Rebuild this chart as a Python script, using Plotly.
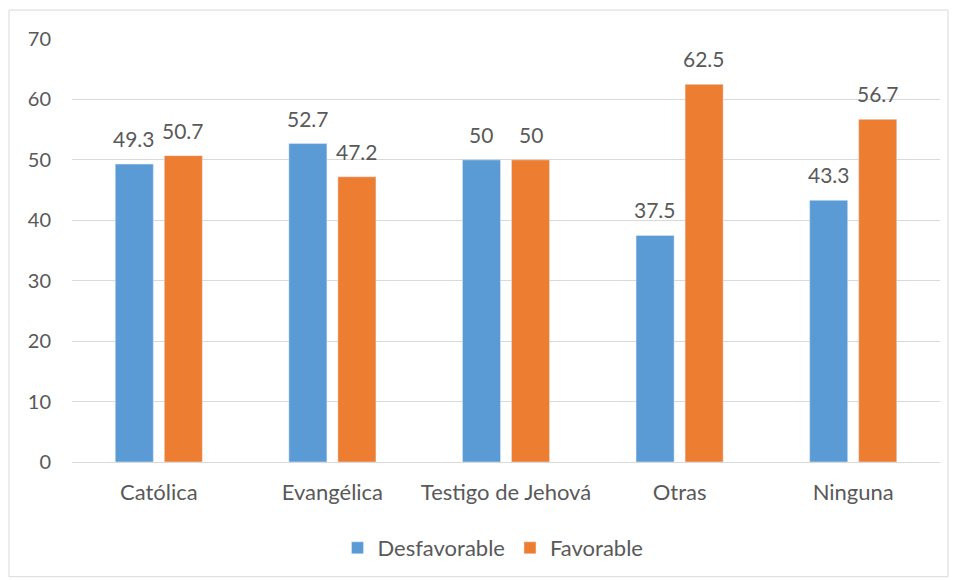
import plotly.graph_objects as go

categories = ["Católica", "Evangélica", "Testigo de Jehová", "Otras", "Ninguna"]
desfavorable = [49.3, 52.7, 50, 37.5, 43.3]
favorable = [50.7, 47.2, 50, 62.5, 56.7]
y_ticks = [0, 10, 20, 30, 40, 50, 60, 70]

font_family = "Lato, 'Open Sans', sans-serif"
txt = "#595959"

W, H = 956, 580
L, R, T, B = 72, 16, 39, 117
pw, ph = W - L - R, H - T - B
cat_w = pw / len(categories)
bargap = 0.435
slot = cat_w * (1 - bargap) / 2

def px(x):
    return (x - L) / pw

def py(y):
    return (H - B - y) / ph

fig = go.Figure()
fig.add_trace(go.Bar(name="Desfavorable", x=categories, y=desfavorable, marker_color="#5B9BD5"))
fig.add_trace(go.Bar(name="Favorable", x=categories, y=favorable, marker_color="#ED7D31"))

annotations = []
for series, shift in ((desfavorable, -slot / 2), (favorable, slot / 2)):
    for c, v in zip(categories, series):
        annotations.append(dict(x=c, y=v, xref="x", yref="y", text=f"{v:g}", showarrow=False,
                                xshift=shift, yshift=11, yanchor="bottom",
                                font=dict(size=21, color=txt, family=font_family)))

fig.update_layout(
    width=W, height=H,
    margin=dict(l=L, r=R, t=T, b=B),
    paper_bgcolor="white", plot_bgcolor="white",
    barmode="group", bargap=bargap, bargroupgap=0.224,
    font=dict(family=font_family, color=txt, size=21),
    xaxis=dict(showgrid=False, showline=True, linecolor="#D9D9D9", linewidth=1,
               tickfont=dict(size=22, color=txt), ticks="", ticklabelstandoff=11),
    yaxis=dict(range=[0, 70], tickvals=y_ticks, showgrid=True, gridcolor="#D9D9D9",
               gridwidth=1, zeroline=False, showline=False, ticks="",
               tickfont=dict(size=20, color=txt), ticklabelstandoff=20),
    legend=dict(orientation="h", x=px(493), xanchor="center", y=py(548), yanchor="middle",
                font=dict(size=22, color=txt), traceorder="normal"),
    annotations=annotations,
    shapes=[dict(type="rect", xref="paper", yref="paper",
                 x0=px(9), x1=px(948), y0=py(578), y1=py(10),
                 line=dict(color="#D9D9D9", width=1), fillcolor="rgba(0,0,0,0)")],
)
fig.write_html("out.html", config={"displayModeBar": False},
               post_script="document.body.style.margin='0px';document.body.style.overflow='hidden';")
